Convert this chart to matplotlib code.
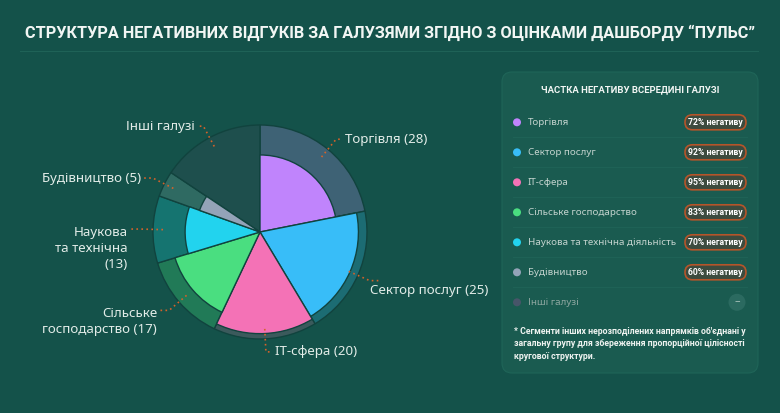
import numpy as np
import matplotlib.pyplot as plt
from matplotlib.patches import FancyBboxPatch, Circle

# data
sectors = ['Торгівля', 'Сектор послуг', 'IT-сфера', 'Сільське господарство',
           'Наукова та технічна діяльність', 'Будівництво', 'Інші галузі']
pie_labels = ['Торгівля (28)', 'Сектор послуг (25)', 'IT-сфера (20)',
              'Сільське\nгосподарство (17)', 'Наукова\nта технічна\n(13)',
              'Будівництво (5)', 'Інші галузі']
counts = [28, 25, 20, 17, 13, 5, 20]
neg_share = [72, 92, 95, 83, 70, 60, None]

inner_colors = ['#c084fc', '#38bdf8', '#f472b6', '#4ade80', '#22d3ee', '#94a3b8', '#475569']
outer_colors = ['#3e6275', '#1c6c73', '#3b5a5c', '#217a57', '#157470', '#2f6a62', '#1e4f4d']

bg = '#14524a'
W, H = 780, 413
plt.rcParams['font.family'] = ['Noto Sans', 'DejaVu Sans']
bold_font = ['Roboto', 'DejaVu Sans']

fig = plt.figure(figsize=(7.8, 4.13), dpi=100, facecolor=bg)
ax = fig.add_axes([0, 0, 1, 1])
ax.set_facecolor(bg)

# pie (pixel coords, y up)
cx, cy, R = 260, H - 232, 107
wp = dict(edgecolor='#11433e', linewidth=1)
outer, _ = ax.pie(counts, radius=R, center=(cx, cy), startangle=90, counterclock=False,
                  colors=outer_colors, wedgeprops=wp)
inner, _ = ax.pie(counts, radius=R, center=(cx, cy), startangle=90, counterclock=False,
                  colors=inner_colors, wedgeprops=wp)
for w, p in zip(inner, neg_share):
    if p is None:
        w.set_visible(False)
    else:
        w.set_radius(R * p / 100)

ax.set_xlim(0, W)
ax.set_ylim(0, H)
ax.set_aspect('equal')
ax.axis('off')

# leader lines + labels
lead = '#d4622a'
seg = [7, 12, 7, 10, 10, 10, 7]
txt_off = [(2, 0), (-12, -10), (2, 0), (-2, 3), (-2, 3), (-2, 0), (-2, 0)]
for w, lab, L, (dx, dy) in zip(outer, pie_labels, seg, txt_off):
    mid = np.deg2rad((w.theta1 + w.theta2) / 2)
    x0, y0 = cx + 97 * np.cos(mid), cy + 97 * np.sin(mid)
    x1, y1 = cx + 120 * np.cos(mid), cy + 120 * np.sin(mid)
    s = 1 if np.cos(mid) >= 0 else -1
    x2 = x1 + s * L
    ax.plot([x0, x1, x2], [y0, y1, y1], color=lead, lw=1.2, ls=(0, (1, 2)), zorder=5)
    multi = '\n' in lab
    ax.text(x2 + dx, y1 + dy, lab,
            ha='left' if s > 0 else 'right', va='top' if multi else 'center',
            fontsize=9.6, color='#e2ece8', linespacing=1.3, zorder=6)

# title, sized to span the same width as the reference
title = ax.text(W / 2, H - 33, 'СТРУКТУРА НЕГАТИВНИХ ВІДГУКІВ ЗА ГАЛУЗЯМИ ЗГІДНО З ОЦІНКАМИ ДАШБОРДУ “ПУЛЬС”',
                ha='center', va='center', fontsize=14, fontweight='bold', color='#f2f6f4',
                family=bold_font)
fig.canvas.draw()
tw = title.get_window_extent().width
title.set_fontsize(14 * 734 / tw)
ax.plot([20, 758], [H - 51, H - 51], color='#1f6257', lw=0.8)

# side panel
ax.add_patch(FancyBboxPatch((502, H - 373), 256, 301, boxstyle='round,pad=0,rounding_size=10',
                            facecolor='#1a5b50', edgecolor='#1f6558', lw=0.8))
ax.text(630, H - 90, 'ЧАСТКА НЕГАТИВУ ВСЕРЕДИНІ ГАЛУЗІ', ha='center', va='center',
        fontsize=6.8, fontweight='bold', color='#f2f6f4', family=bold_font)

for i, (name, p, c) in enumerate(zip(sectors, neg_share, inner_colors)):
    y = H - (122.3 + 30 * i)
    ax.add_patch(Circle((517, y), 4, facecolor=c, edgecolor='none'))
    ax.text(528, y, name, ha='left', va='center', fontsize=7.0,
            color='#8ea7a1' if p is None else '#c3d3ce')
    if p is None:
        ax.add_patch(Circle((737, y), 8.5, facecolor='#2b6a60', edgecolor='none'))
        ax.text(737, y, '−', ha='center', va='center', fontsize=7, color='#b3c9c3')
    else:
        ax.add_patch(FancyBboxPatch((685, y - 7.5), 61, 15, boxstyle='round,pad=0,rounding_size=7.5',
                                    facecolor='#3c4b3e', edgecolor='#b5552a', lw=1.2))
        ax.text(715.5, y, f'{p}% негативу', ha='center', va='center', fontsize=6.2,
                fontweight='bold', color='#ffffff', family=bold_font)
    if i < len(sectors) - 1:
        ax.plot([513, 747], [y - 15, y - 15], color='#1e6256', lw=0.8)

ax.text(514, H - 327, '* Сегменти інших нерозподілених напрямків об\'єднані у\n'
        'загальну групу для збереження пропорційної цілісності\nкругової структури.',
        ha='left', va='top', fontsize=6.3, fontweight='bold', color='#eef3f0',
        linespacing=1.5, family=bold_font)

fig.savefig('out.png', dpi=100, facecolor=bg)
